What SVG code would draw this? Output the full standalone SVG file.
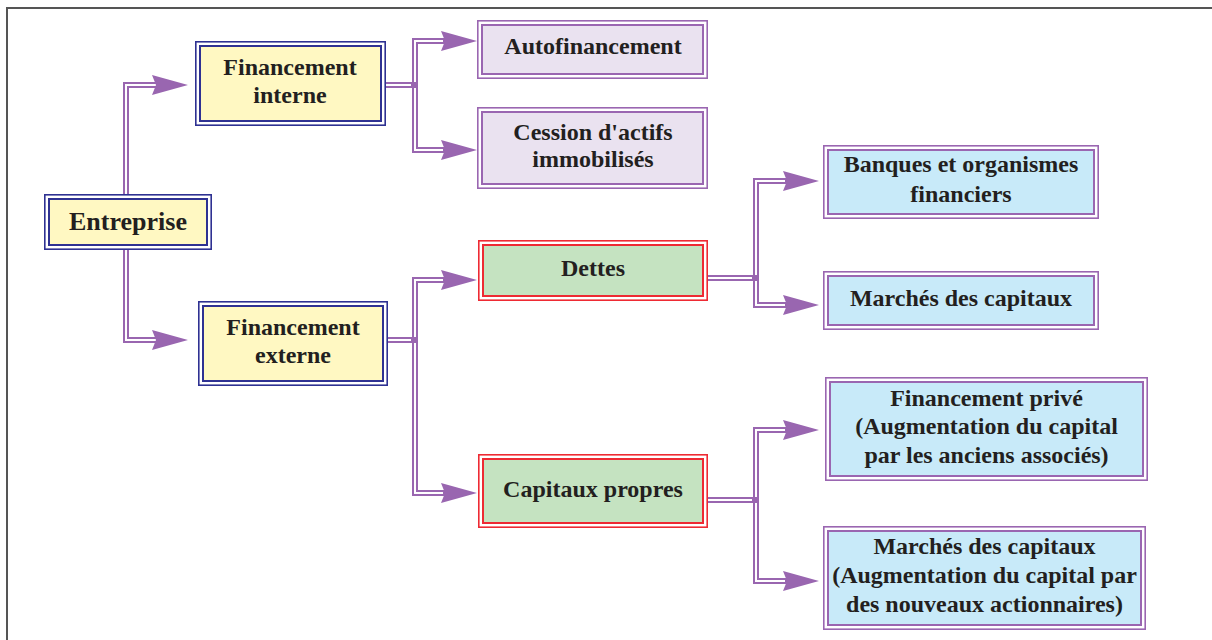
<svg xmlns="http://www.w3.org/2000/svg" width="1212" height="640" viewBox="0 0 1212 640">
<style>
.t{font-family:"Liberation Serif","Times New Roman",serif;font-weight:bold;font-size:24px;fill:#231F20;text-anchor:middle}
.big{font-size:26px}
.ob{fill:#fff;stroke-width:1.6}
.ib{stroke-width:2}
.yel .ob,.yel .ib{stroke:#2E3192}
.yel .ib{fill:#FFF8C2}
.lav .ob,.lav .ib{stroke:#9A66B1}
.lav .ib{fill:#EAE2F0}
.grn .ob,.grn .ib{stroke:#EE2A33}
.grn .ib{fill:#C5E3C1}
.blu .ob,.blu .ib{stroke:#9A66B1}
.blu .ib{fill:#C8EAF9}
.cp{fill:none;stroke:#9966B0;stroke-width:6;stroke-linejoin:miter}
.cw{fill:none;stroke:#fff;stroke-width:2;stroke-linejoin:miter}
.ah{fill:#9966B0}
</style>
<rect width="1212" height="640" fill="#fff"/>
<path d="M7,640 V8 H1212" fill="none" stroke="#555" stroke-width="2"/>

<g id="connectors">
  <!-- Entreprise -> Financement interne -->
  <path class="cp" d="M126,194 V85 H158"/>
  <path class="cw" d="M126,194 V85 H156"/>
  <polygon class="ah" points="152,75 188,85 152,95 156,85"/>
  <!-- Entreprise -> Financement externe -->
  <path class="cp" d="M126,250 V340 H158"/>
  <path class="cw" d="M126,250 V340 H156"/>
  <polygon class="ah" points="152,330 188,340 152,350 156,340"/>

  <!-- Financement interne -> Autofinancement / Cession -->
  <path class="cp" d="M445,41 H415 V150 H445"/>
  <path class="cw" d="M443,41 H415 V150 H443"/>
  <path class="cp" d="M386,85 H417"/>
  <path class="cw" d="M386,85 H411"/>
  <polygon class="ah" points="441,31 477,41 441,51 445,41"/>
  <polygon class="ah" points="441,140 477,150 441,160 445,150"/>

  <!-- Financement externe -> Dettes / Capitaux propres -->
  <path class="cp" d="M445,280 H415 V493 H445"/>
  <path class="cw" d="M443,280 H415 V493 H443"/>
  <path class="cp" d="M388,340 H417"/>
  <path class="cw" d="M388,340 H411"/>
  <polygon class="ah" points="441,270 477,280 441,290 445,280"/>
  <polygon class="ah" points="441,483 477,493 441,503 445,493"/>

  <!-- Dettes -> Banques / Marchés -->
  <path class="cp" d="M787,181 H756 V305 H787"/>
  <path class="cw" d="M785,181 H756 V305 H785"/>
  <path class="cp" d="M708,278 H758"/>
  <path class="cw" d="M708,278 H752"/>
  <polygon class="ah" points="783,171 819,181 783,191 787,181"/>
  <polygon class="ah" points="783,295 819,305 783,315 787,305"/>

  <!-- Capitaux propres -> Financement privé / Marchés -->
  <path class="cp" d="M787,430 H756 V581 H787"/>
  <path class="cw" d="M785,430 H756 V581 H785"/>
  <path class="cp" d="M708,500 H758"/>
  <path class="cw" d="M708,500 H752"/>
  <polygon class="ah" points="783,420 819,430 783,440 787,430"/>
  <polygon class="ah" points="783,571 819,581 783,591 787,581"/>
</g>

<g id="entreprise" class="yel">
  <rect class="ob" x="44.8" y="194.8" width="166.4" height="54.4"/>
  <rect class="ib" x="49" y="199" width="158" height="46"/>
  <text class="t big" x="128" y="230">Entreprise</text>
</g>
<g id="financement-interne" class="yel">
  <rect class="ob" x="195.8" y="41.8" width="189.4" height="83.4"/>
  <rect class="ib" x="200" y="46" width="181" height="75"/>
  <text class="t" x="290" y="75">Financement</text>
  <text class="t" x="290" y="103">interne</text>
</g>
<g id="financement-externe" class="yel">
  <rect class="ob" x="198.8" y="301.8" width="188.4" height="83.4"/>
  <rect class="ib" x="203" y="306" width="180" height="75"/>
  <text class="t" x="293" y="335">Financement</text>
  <text class="t" x="293" y="363">externe</text>
</g>
<g id="autofinancement" class="lav">
  <rect class="ob" x="477.8" y="20.8" width="229.4" height="57.4"/>
  <rect class="ib" x="482" y="25" width="221" height="49"/>
  <text class="t" x="593" y="54">Autofinancement</text>
</g>
<g id="cession" class="lav">
  <rect class="ob" x="477.8" y="107.8" width="229.4" height="80.4"/>
  <rect class="ib" x="482" y="112" width="221" height="72"/>
  <text class="t" x="593" y="140">Cession d'actifs</text>
  <text class="t" x="593" y="167">immobilisés</text>
</g>
<g id="dettes" class="grn">
  <rect class="ob" x="478.8" y="240.8" width="228.4" height="59.4"/>
  <rect class="ib" x="483" y="245" width="220" height="51"/>
  <text class="t" x="593" y="276">Dettes</text>
</g>
<g id="capitaux-propres" class="grn">
  <rect class="ob" x="478.8" y="454.8" width="228.4" height="72.4"/>
  <rect class="ib" x="483" y="459" width="220" height="64"/>
  <text class="t" x="593" y="497">Capitaux propres</text>
</g>
<g id="banques" class="blu">
  <rect class="ob" x="823.8" y="145.8" width="274.4" height="72.4"/>
  <rect class="ib" x="828" y="150" width="266" height="64"/>
  <text class="t" x="961" y="172">Banques et organismes</text>
  <text class="t" x="961" y="202">financiers</text>
</g>
<g id="marches-dettes" class="blu">
  <rect class="ob" x="823.8" y="271.8" width="274.4" height="57.4"/>
  <rect class="ib" x="828" y="276" width="266" height="49"/>
  <text class="t" x="961" y="306">Marchés des capitaux</text>
</g>
<g id="financement-prive" class="blu">
  <rect class="ob" x="825.8" y="377.8" width="321.4" height="102.4"/>
  <rect class="ib" x="830" y="382" width="313" height="94"/>
  <text class="t" x="986.5" y="406">Financement privé</text>
  <text class="t" x="986.5" y="434">(Augmentation du capital</text>
  <text class="t" x="986.5" y="463">par les anciens associés)</text>
</g>
<g id="marches-capitaux" class="blu">
  <rect class="ob" x="823.8" y="526.8" width="321.4" height="102.4"/>
  <rect class="ib" x="828" y="531" width="313" height="94"/>
  <text class="t" x="984.5" y="554">Marchés des capitaux</text>
  <text class="t" x="984.5" y="583">(Augmentation du capital par</text>
  <text class="t" x="984.5" y="612">des nouveaux actionnaires)</text>
</g>
</svg>
